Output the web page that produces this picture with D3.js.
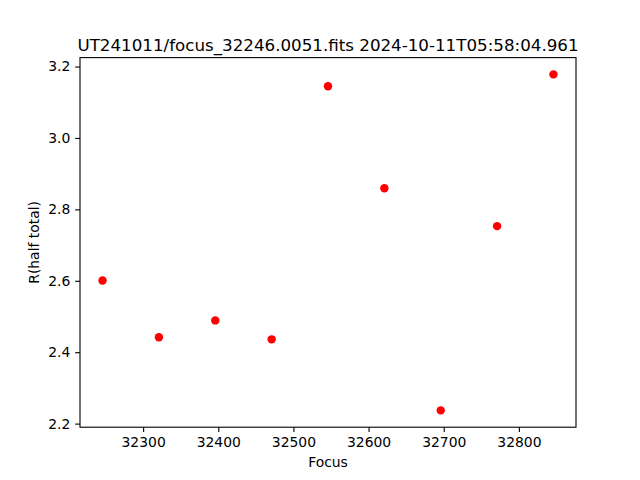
<!DOCTYPE html>
<html><head><meta charset="utf-8">
<script src="https://cdn.jsdelivr.net/npm/d3@7"></script>
<style>body{margin:0;background:#fff}svg{display:block}text{font-family:"DejaVu Sans",sans-serif;fill:#000}</style>
</head><body>
<script>
const focus = [32246, 32321, 32396, 32471, 32546, 32621, 32696, 32771, 32846];
const rHalf = [2.601, 2.442, 2.489, 2.436, 3.145, 2.859, 2.237, 2.753, 3.178];
const xTicks = [32300, 32400, 32500, 32600, 32700, 32800];
const yTicks = [2.2, 2.4, 2.6, 2.8, 3.0, 3.2];
const title = "UT241011/focus_32246.0051.fits 2024-10-11T05:58:04.961";

const W = 640, H = 480;
const m = {l: 80, r: 576, t: 57.6, b: 427.2};
const svg = d3.select("body").append("svg").attr("width", W).attr("height", H);

const xmin = d3.min(focus), xmax = d3.max(focus), xp = (xmax - xmin) * 0.05;
const ymin = d3.min(rHalf), ymax = d3.max(rHalf), yp = (ymax - ymin) * 0.05;
const x = d3.scaleLinear().domain([xmin - xp, xmax + xp]).range([m.l, m.r]);
const y = d3.scaleLinear().domain([ymin - yp, ymax + yp]).range([m.b, m.t]);

const fs = 13.9;
const xa = svg.append("g").attr("transform", `translate(0,${m.b})`)
  .call(d3.axisBottom(x).tickValues(xTicks).tickFormat(d3.format("d")).tickSizeOuter(0).tickSize(4.86).tickPadding(4.9));
const ya = svg.append("g").attr("transform", `translate(${m.l},0)`)
  .call(d3.axisLeft(y).tickValues(yTicks).tickFormat(d3.format(".1f")).tickSizeOuter(0).tickSize(4.86).tickPadding(4.9));
[xa, ya].forEach(a => {
  a.select(".domain").remove();
  a.selectAll("line").attr("stroke", "#000").attr("stroke-width", 1.1);
  a.selectAll("text").attr("font-size", fs).attr("font-family", "DejaVu Sans").attr("fill", "#000");
});

svg.append("rect").attr("x", m.l).attr("y", m.t).attr("width", m.r - m.l).attr("height", m.b - m.t)
  .attr("fill", "none").attr("stroke", "#000").attr("stroke-width", 1.1);

svg.append("g").selectAll("circle").data(focus).join("circle")
  .attr("cx", d => x(d)).attr("cy", (d, i) => y(rHalf[i])).attr("r", 4.2).attr("fill", "#ff0000");

svg.append("text").attr("x", (m.l + m.r) / 2).attr("y", 51).attr("text-anchor", "middle")
  .attr("font-size", 16.7).text(title);
svg.append("text").attr("x", (m.l + m.r) / 2).attr("y", 467).attr("text-anchor", "middle")
  .attr("font-size", fs).text("Focus");
svg.append("text").attr("transform", `translate(39,${(m.t + m.b) / 2}) rotate(-90)`).attr("text-anchor", "middle")
  .attr("font-size", fs).text("R(half total)");
</script>
</body></html>
